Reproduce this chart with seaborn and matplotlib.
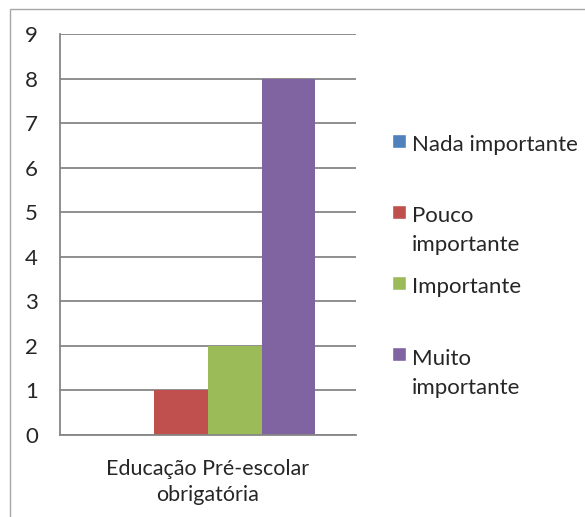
import pandas as pd
import matplotlib.pyplot as plt
import seaborn as sns
from matplotlib.patches import Rectangle, Patch
from matplotlib.legend_handler import HandlerPatch

# data
categories = ['Educação Pré-escolar\nobrigatória']
series = ['Nada importante', 'Pouco importante', 'Importante', 'Muito importante']
legend_labels = ['Nada importante\n ', 'Pouco\nimportante', 'Importante\n ', 'Muito\nimportante']
values = [0, 1, 2, 8]
colors = ['#4F81BD', '#C0504D', '#9BBB59', '#8064A2']
y_ticks = list(range(0, 10))

sns.set_style('white')
plt.rcParams['font.family'] = ['Lato', 'DejaVu Sans']

df = pd.DataFrame({'Categoria': categories * len(series), 'Resposta': series, 'Valor': values})

fig = plt.figure(figsize=(5.85, 5.17), dpi=100)
ax = fig.add_axes([60 / 585, 1 - 435 / 517, 296 / 585, 401 / 517])

sns.barplot(data=df, x='Categoria', y='Valor', hue='Resposta', hue_order=series,
            palette=colors, width=0.726, saturation=1, linewidth=0, edgecolor='none',
            ax=ax, legend=False)

grid_col = '#868686'
ax.set_xlim(-0.5, 0.5)
ax.set_ylim(0, 9)
ax.set_yticks(y_ticks)
ax.yaxis.grid(True, color=grid_col, lw=1.3)
ax.set_axisbelow(True)
ax.set_xlabel('')
ax.set_ylabel('')
for s in ['top', 'right']:
    ax.spines[s].set_visible(False)
for s in ['left', 'bottom']:
    ax.spines[s].set_color(grid_col)
    ax.spines[s].set_linewidth(1.3)

ax.tick_params(axis='y', length=5, width=1.3, color=grid_col, labelsize=16, pad=11)
ax.set_xticks([-0.5, 0.5], minor=True)
ax.tick_params(axis='x', which='minor', length=5, width=1.3, color=grid_col, direction='out')
ax.tick_params(axis='x', which='major', length=0, labelsize=15.5, pad=17)
for t in ax.get_xticklabels():
    t.set_linespacing(1.4)


# legend: square handle aligned with the first text line
def top_square(legend, orig_handle, xdescent, ydescent, width, height, fontsize):
    s = 0.63 * fontsize
    return Rectangle((-xdescent, -ydescent + 0.89 * fontsize), s, s)


handles = [Patch(facecolor=c) for c in colors]
leg = fig.legend(handles, legend_labels, loc='upper left', bbox_to_anchor=(392 / 585, 1 - 135 / 517),
                 frameon=False, fontsize=16, handlelength=0.63, handletextpad=0.25,
                 labelspacing=1.01, borderpad=0, borderaxespad=0,
                 handler_map={Patch: HandlerPatch(patch_func=top_square)})
for t in leg.get_texts():
    t.set_linespacing(1.55)

# outer chart border
fig.add_artist(Rectangle((10 / 585, -0.1), 1.2, 1 - 9 / 517 + 0.1, transform=fig.transFigure,
                         fill=False, edgecolor='#a6a6a6', lw=1))

fig.savefig('out.png', dpi=100)
